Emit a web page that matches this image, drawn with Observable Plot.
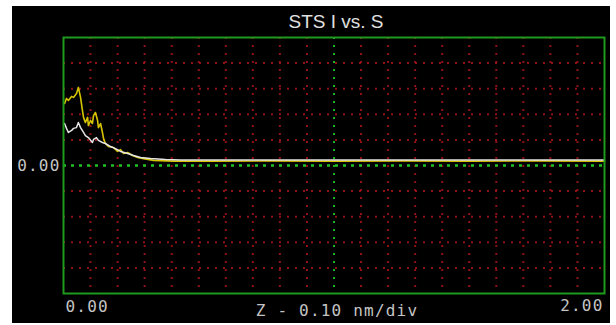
<!DOCTYPE html>
<html>
<head>
<meta charset="utf-8">
<script src="https://cdn.jsdelivr.net/npm/d3@7"></script>
<script src="https://cdn.jsdelivr.net/npm/@observablehq/plot@0.6"></script>
<style>
  html, body { margin: 0; padding: 0; background: #fff; }
  #wrap { position: relative; width: 616px; height: 325px; background: #fff; overflow: hidden; }
  #box { position: absolute; left: 12px; top: 6px; width: 598px; height: 317px; background: #000; }
  #chart { position: absolute; left: 0; top: 0; }
  .mono text { letter-spacing: 1.2px; }
</style>
</head>
<body>
<div id="wrap"><div id="box"></div><div id="chart"></div></div>
<script>
// Z (nm) and current (arbitrary units, 1 unit = 1 vertical division)
const yellowZ = [0.004, 0.011, 0.018, 0.030, 0.037, 0.048, 0.055, 0.063, 0.070, 0.074, 0.081, 0.089, 0.092, 0.100, 0.107, 0.111, 0.118, 0.126, 0.129, 0.137, 0.144, 0.148, 0.155, 0.166, 0.185, 0.200, 0.211, 0.222, 0.237, 0.255, 0.274, 0.296, 0.333, 0.407, 0.55, 0.75, 1.00, 1.25, 1.50, 1.75, 2.00];
const yellowI = [2.42, 2.62, 2.54, 2.70, 2.66, 2.81, 3.05, 2.66, 2.15, 1.88, 1.68, 1.88, 1.56, 1.76, 1.64, 1.95, 2.07, 1.76, 1.48, 1.64, 1.29, 1.05, 0.86, 0.74, 0.70, 0.55, 0.62, 0.47, 0.51, 0.39, 0.31, 0.27, 0.20, 0.17, 0.17, 0.18, 0.17, 0.18, 0.17, 0.18, 0.17];
const whiteZ = [0.004, 0.011, 0.018, 0.030, 0.037, 0.048, 0.055, 0.063, 0.074, 0.081, 0.092, 0.107, 0.111, 0.122, 0.129, 0.144, 0.155, 0.174, 0.192, 0.211, 0.237, 0.259, 0.285, 0.322, 0.377, 0.433, 0.60, 0.80, 1.00, 1.20, 1.40, 1.60, 1.80, 2.00];
const whiteI = [1.64, 1.45, 1.29, 1.37, 1.45, 1.48, 1.68, 1.48, 1.29, 1.17, 1.09, 0.90, 1.02, 1.09, 0.98, 0.90, 0.86, 0.74, 0.66, 0.55, 0.47, 0.39, 0.31, 0.27, 0.23, 0.21, 0.21, 0.21, 0.21, 0.21, 0.21, 0.21, 0.21, 0.21];

const xGridTicks = [0.1,0.2,0.3,0.4,0.5,0.6,0.7,0.8,0.9,1.1,1.2,1.3,1.4,1.5,1.6,1.7,1.8,1.9];
const yGridTicks = [-4,-3,-2,-1,1,2,3,4];
const xCenter = [1.0];
const yCenter = [0];
const xDomain = [0, 2];
const yDomain = [-5, 5];
const titleText = "STS I vs. S";
const yTickLabel = "0.00";
const xStartLabel = "0.00";
const xEndLabel = "2.00";
const xAxisLabel = "Z - 0.10 nm/div";

const yellow = yellowZ.map((z, i) => ({z, i: yellowI[i]}));
const white = whiteZ.map((z, i) => ({z, i: whiteI[i]}));

const mono = "'DejaVu Sans Mono', monospace";
const chart = Plot.plot({
  width: 616,
  height: 325,
  marginLeft: 63,
  marginRight: 12,
  marginTop: 37,
  marginBottom: 32,
  style: {background: "transparent", overflow: "visible"},
  x: {domain: xDomain, axis: null},
  y: {domain: yDomain, axis: null},
  marks: [
    Plot.ruleX(xGridTicks, {stroke: "#a81418", strokeWidth: 2, strokeDasharray: "2,6", strokeOpacity: 0.85}),
    Plot.ruleY(yGridTicks, {stroke: "#a81418", strokeWidth: 2, strokeDasharray: "2,6", strokeOpacity: 0.85}),
    Plot.ruleX(xCenter, {stroke: "#20b020", strokeWidth: 2, strokeDasharray: "2,6"}),
    Plot.ruleY(yCenter, {stroke: "#22c022", strokeWidth: 2.5, strokeDasharray: "3,5"}),
    Plot.line(yellow, {x: "z", y: "i", stroke: "#d6c400", strokeWidth: 1.6}),
    Plot.line(white, {x: "z", y: "i", stroke: "#e4e4e4", strokeWidth: 1.5}),
    Plot.frame({stroke: "#1f9a1f", strokeWidth: 2}),
    Plot.text([titleText], {frameAnchor: "top", lineAnchor: "middle", dy: -16, dx: 2, fill: "#e0e0e0", fontSize: 19, fontFamily: "'Liberation Sans', Arial, sans-serif"}),
    Plot.text([0], {y: d => d, text: () => yTickLabel, frameAnchor: "left", lineAnchor: "middle", dx: -3, textAnchor: "end", fill: "#c4c4c4", fontSize: 16, fontFamily: mono, className: "mono"}),
    Plot.text([0], {x: d => d, text: () => xStartLabel, frameAnchor: "bottom", lineAnchor: "middle", dy: 13, dx: 2, textAnchor: "start", fill: "#c4c4c4", fontSize: 16, fontFamily: mono, className: "mono"}),
    Plot.text([2], {x: d => d, text: () => xEndLabel, frameAnchor: "bottom", lineAnchor: "middle", dy: 12, dx: -1, textAnchor: "end", fill: "#c4c4c4", fontSize: 16, fontFamily: mono, className: "mono"}),
    Plot.text([xAxisLabel], {frameAnchor: "bottom", lineAnchor: "middle", dy: 17, dx: 3, fill: "#c4c4c4", fontSize: 16, fontFamily: mono, className: "mono"})
  ]
});
document.getElementById("chart").appendChild(chart);
</script>
</body>
</html>
